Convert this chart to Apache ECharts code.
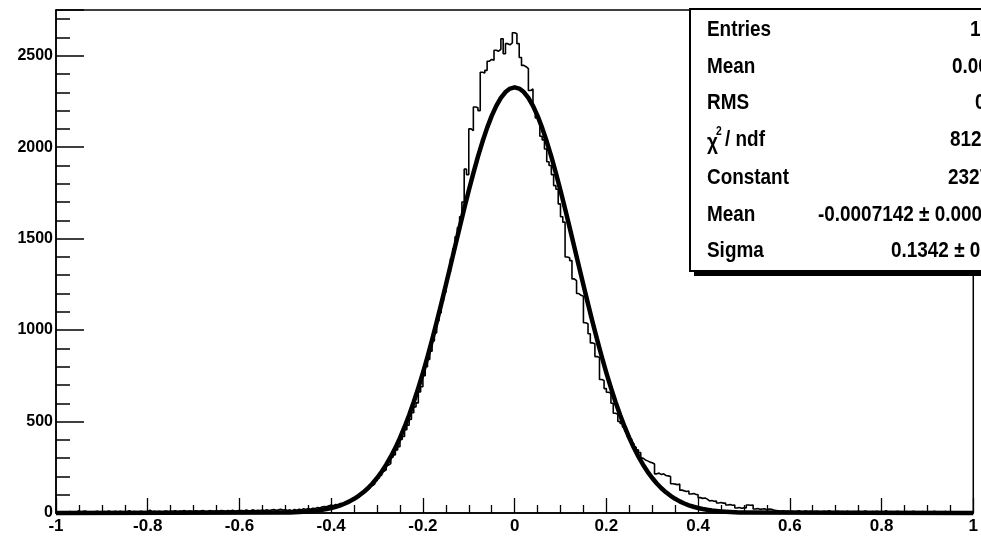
<!DOCTYPE html>
<html><head><meta charset="utf-8">
<script src="https://cdn.jsdelivr.net/npm/echarts@6/dist/echarts.min.js"></script>
<style>html,body{margin:0;padding:0;background:#fff}#c{width:981px;height:539px}</style>
</head><body><div id="c"></div>
<script>
// ---- histogram: 400 bins of width 0.005 from -1 to 1 ----
const binStart = -1;
const binWidth = 0.005;
const countsLeftTail = [ // -1.000 .. -0.505
  4, 2, 6, 3, 5, 8, 3, 4, 6, 12,   5, 9, 10, 4, 7, 3, 6, 9, 5, 4,
  8, 6, 11, 5, 7, 9, 4, 10, 6, 5,  7, 12, 5, 8, 6, 4, 9, 7, 5, 8,
  16, 6, 9, 7, 10, 6, 8, 11, 7, 9, 8, 12, 7, 10, 9, 13, 8, 11, 10, 7,
  12, 9, 11, 14, 10, 8, 13, 11, 9, 12, 10, 14, 12, 9, 13, 11, 15, 10, 12, 14,
  13, 11, 16, 12, 14, 17, 12, 15, 13, 16, 14, 18, 13, 16, 19, 15, 17, 20, 16, 18
];
const countsCore = [ // -0.500 .. 0.495
  14, 17, 12, 19, 15, 20, 17, 23, 19, 24, 21, 26, 24, 30, 27, 33, 36, 34, 40, 43,
  40, 46, 44, 52, 50, 58, 62, 66, 74, 78, 86, 92, 100, 108, 116, 130, 138, 150, 158, 176,
  192, 205, 228, 236, 262, 270, 305, 318, 345, 362, 402, 418, 455, 480, 512, 548, 580, 602, 662, 690,
  750, 800, 840, 885, 940, 985, 1050, 1095, 1160, 1205, 1275, 1318, 1390, 1445, 1510, 1560, 1620, 1700, 1880, 1850,
  2100, 2090, 2220, 2215, 2200, 2410, 2405, 2420, 2470, 2480, 2475, 2530, 2525, 2535, 2593, 2511, 2566, 2560, 2570, 2626,
  2620, 2566, 2490, 2447, 2440, 2430, 2310, 2318, 2218, 2160, 2150, 2060, 2040, 1990, 1920, 1900, 1850, 1790, 1770, 1690,
  1620, 1590, 1400, 1396, 1380, 1280, 1270, 1200, 1190, 1185, 1040, 1035, 980, 930, 925, 855, 850, 730, 725, 680,
  660, 655, 600, 545, 540, 500, 489, 470, 448, 420, 405, 380, 360, 345, 330, 300, 290, 285, 278, 275,
  268, 214, 218, 210, 214, 205, 203, 200, 160, 158, 155, 159, 125, 121, 118, 120, 104, 106, 102, 100,
  84, 80, 82, 76, 66, 68, 64, 66, 55, 57, 54, 55, 44, 46, 42, 44, 27, 30, 26, 28
];
const countsRightTail = [ // 0.500 .. 0.995
  27, 44, 42, 44, 22, 24, 20, 22, 23, 18, 22, 20, 16, 14, 12, 10, 12, 9, 11, 8,
  10, 7, 9, 12, 6, 8, 11, 7, 9, 6,  8, 10, 5, 7, 9, 6, 12, 8, 5, 7,
  9, 6, 8, 4, 10, 7, 5, 8, 6, 9,   5, 7, 11, 6, 4, 8, 6, 9, 5, 7,
  6, 12, 5, 8, 4, 7, 9, 5, 6, 4,   8, 5, 7, 10, 4, 6, 5, 8, 3, 7,
  6, 4, 9, 5, 7, 3, 6, 8, 4, 5,    3, 7, 4, 6, 2, 5, 4, 3, 6, 2
];
// ---- gaus fit curve, read at 0.01 steps from -0.5 to 0.5 ----
const fitStart = -0.5;
const fitStep = 0.01;
const fitValues = [
  2.3, 2.9, 3.9, 5.0, 6.5, 8.4, 10.8, 13.7, 17.4, 21.9,
  27.4, 34.1, 42.2, 52.0, 63.7, 77.6, 93.9, 113.1, 135.5, 161.4,
  191.3, 225.3, 264.1, 307.6, 356.3, 410.6, 470.4, 536.0, 607.1, 684.1,
  766.6, 854.2, 946.6, 1043.2, 1143.3, 1246.1, 1350.5, 1455.6, 1560.2, 1663.0,
  1762.8, 1858.2, 1948.0, 2030.7, 2105.7, 2171.0, 2225.9, 2269.6, 2301.3, 2320.5,
  2327.0,
  2320.5, 2301.3, 2269.6, 2225.9, 2171.0, 2105.7, 2030.7, 1948.0, 1858.2, 1762.8,
  1663.0, 1560.2, 1455.6, 1350.5, 1246.1, 1143.3, 1043.2, 946.6, 854.2, 766.6,
  684.1, 607.1, 536.0, 470.4, 410.6, 356.3, 307.6, 264.1, 225.3, 191.3,
  161.4, 135.5, 113.1, 93.9, 77.6, 63.7, 52.0, 42.2, 34.1, 27.4,
  21.9, 17.4, 13.7, 10.8, 8.4, 6.5, 5.0, 3.9, 2.9, 2.3
];
const fitEnds = [[-1, 0], [1, 0]];
// ---- axes ----
const xMin = -1, xMax = 1, xInterval = 0.2;
const yMin = 0, yMax = 2750, yInterval = 500;
// ---- stats box ----
const statLabels = ['Entries', 'Mean', 'RMS', '', 'Constant', 'Mean', 'Sigma'];
const statValues = ['190467', '0.002413', '0.1441', '8123 / 397', '2327 ± 6.9', '-0.0007142 ± 0.0003148', '0.1342 ± 0.0002434'];

const counts = countsLeftTail.concat(countsCore, countsRightTail);
const histData = counts.map((c, i) => [binStart + i * binWidth, c]);
histData.push([binStart + counts.length * binWidth, counts[counts.length - 1]]);
const fitData = [fitEnds[0]].concat(fitValues.map((v, i) => [fitStart + i * fitStep, v]), [fitEnds[1]]);

const LBL = '"Liberation Sans", Arial, sans-serif';
const STATFONT = 'bold 22px "Liberation Sans", Arial, sans-serif';
const valueX = [970, 952, 975, 950, 948, 818, 891];
const rowY = [30, 67, 103, 140, 178, 215, 251];

const graphics = [
  {type: 'rect', shape: {x: 694, y: 13, width: 400, height: 263}, style: {fill: '#000'}, z: 100},
  {type: 'rect', shape: {x: 690, y: 9, width: 400, height: 262}, style: {fill: '#fff', stroke: '#000', lineWidth: 2}, z: 101}
];
statLabels.forEach((t, i) => {
  if (t) graphics.push({type: 'text', x: 707, y: rowY[i], scaleX: 0.86, z: 102,
    style: {text: t, font: STATFONT, fill: '#000', textAlign: 'left', textVerticalAlign: 'middle'}});
  graphics.push({type: 'text', x: valueX[i], y: rowY[i], scaleX: 0.86, z: 102,
    style: {text: statValues[i], font: STATFONT, fill: '#000', textAlign: 'left', textVerticalAlign: 'middle'}});
});
graphics.push({type: 'text', x: 707, y: 143, scaleX: 0.86, z: 102,
  style: {text: 'χ', font: STATFONT, fill: '#000', textAlign: 'left', textVerticalAlign: 'middle'}});
graphics.push({type: 'text', x: 716, y: 132, scaleX: 0.86, z: 102,
  style: {text: '2', font: 'bold 12px "Liberation Sans", Arial, sans-serif', fill: '#000', textAlign: 'left', textVerticalAlign: 'middle'}});
graphics.push({type: 'text', x: 725, y: rowY[3], scaleX: 0.86, z: 102,
  style: {text: '/ ndf', font: STATFONT, fill: '#000', textAlign: 'left', textVerticalAlign: 'middle'}});

const chart = echarts.init(document.getElementById('c'), null, {renderer: 'canvas'});
chart.setOption({
  animation: false,
  backgroundColor: '#fff',
  grid: {left: 56, right: 5, top: 10, bottom: 26, show: true, borderColor: '#000', borderWidth: 1.5, backgroundColor: '#fff'},
  xAxis: {
    type: 'value', min: xMin, max: xMax, interval: xInterval,
    axisLine: {show: true, onZero: false, lineStyle: {color: '#000', width: 1.5}},
    axisTick: {show: true, inside: true, length: 15, lineStyle: {color: '#000', width: 1.3}},
    minorTick: {show: true, splitNumber: 4, length: 8, lineStyle: {color: '#000', width: 1.3}},
    splitLine: {show: false},
    axisLabel: {color: '#000', fontFamily: LBL, fontWeight: 'bold', fontSize: 17, margin: 5,
      formatter: v => String(Math.round(v * 10) / 10)}
  },
  yAxis: {
    type: 'value', min: yMin, max: yMax, interval: yInterval,
    axisLine: {show: true, onZero: false, lineStyle: {color: '#000', width: 1.5}},
    axisTick: {show: true, inside: true, length: 28, lineStyle: {color: '#000', width: 1.5}},
    minorTick: {show: true, splitNumber: 5, length: 14, lineStyle: {color: '#000', width: 1.5}},
    splitLine: {show: false},
    axisLabel: {color: '#000', fontFamily: LBL, fontWeight: 'bold', fontSize: 16, margin: 3, showMaxLabel: false,
      formatter: v => String(v)}
  },
  series: [
    {type: 'line', data: histData, step: 'end', symbol: 'none', silent: true,
     lineStyle: {color: '#000', width: 1.6}},
    {type: 'line', data: fitData, symbol: 'none', silent: true, clip: false,
     lineStyle: {color: '#000', width: 4.5, join: 'round'}}
  ],
  graphic: graphics
});
</script></body></html>
